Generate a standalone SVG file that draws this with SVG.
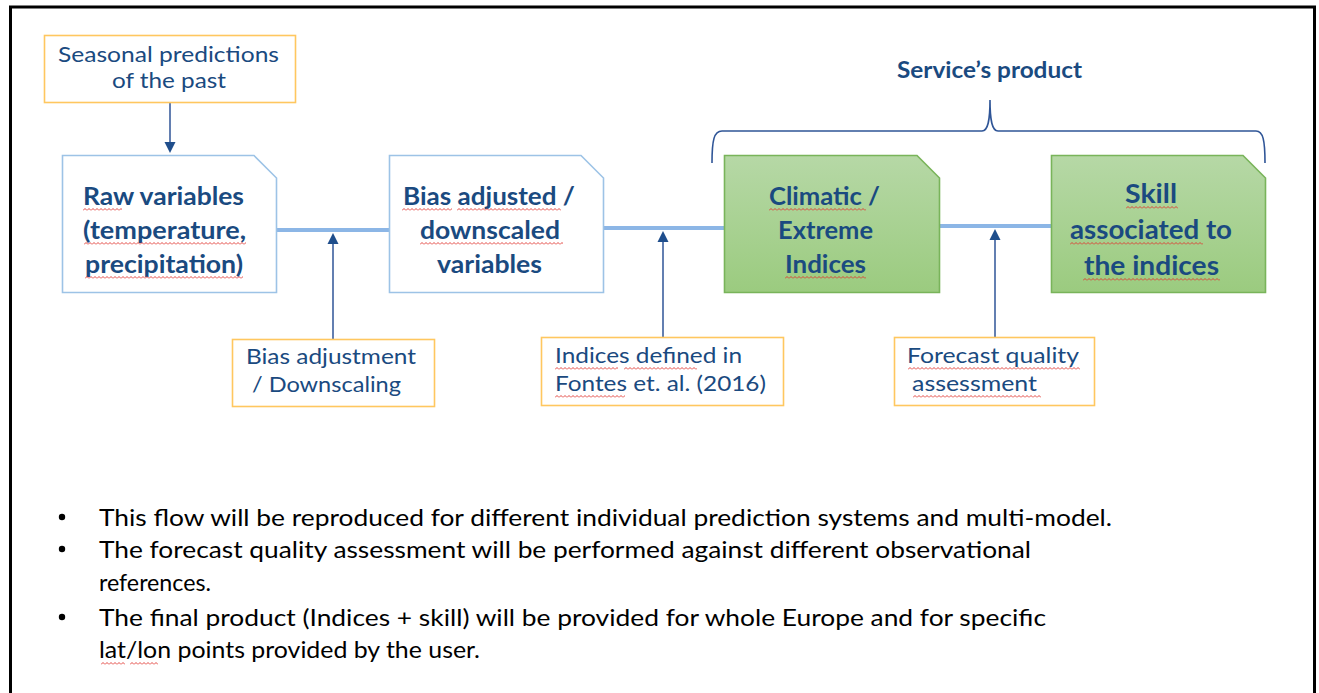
<svg xmlns="http://www.w3.org/2000/svg" width="1319" height="693" viewBox="0 0 1319 693">
  <style>
    .frame { fill: none; stroke: #000; stroke-width: 3; }
    .note { fill: #fff; stroke: #FFC75F; stroke-width: 1.6; }
    .step { fill: #fff; stroke: #9DC3E6; stroke-width: 1.6; }
    .product { fill: url(#greenFill); stroke: #79B45A; stroke-width: 1.6; }
    .flow { stroke: #8CB6E6; stroke-width: 4; fill: none; }
    .feed { stroke: #2F5597; stroke-width: 1.5; fill: none; }
    .brace { stroke: #2F5597; stroke-width: 1.6; fill: none; }
    .head { fill: #1F4E8C; }
    .bold { font-family: Lato, "Open Sans", "Liberation Sans", sans-serif; font-weight: 700; fill: #1A4A80; }
    .reg { font-family: Lato, "Open Sans", "Liberation Sans", sans-serif; font-weight: 400; fill: #1A4A80; }
    .body { font-family: Lato, "Open Sans", "Liberation Sans", sans-serif; font-weight: 400; fill: #000; font-size: 23px; }
  </style>
  <defs>
    <linearGradient id="greenFill" x1="0" y1="0" x2="0" y2="1">
      <stop offset="0" stop-color="#B6D8A6"/>
      <stop offset="1" stop-color="#9BCB7F"/>
    </linearGradient>
    <!-- red wavy underline used under flagged words -->
    <pattern id="squiggle" patternUnits="userSpaceOnUse" x="0" y="0" width="4" height="3">
      <path d="M0,2.5 L2,0.5 L4,2.5" fill="none" stroke="#E0352E" stroke-width="0.9"/>
    </pattern>
    <path id="arrowUp" d="M0,0 L-5.5,11 L5.5,11 Z"/>
  </defs>

  <rect width="1319" height="693" fill="#fff"/>
  <rect class="frame" x="10.5" y="7" width="1304" height="720"/>

  <!-- connectors -->
  <g id="connectors">
    <line class="flow" x1="277" y1="230" x2="389" y2="230"/>
    <line class="flow" x1="603" y1="228" x2="724" y2="228"/>
    <line class="flow" x1="939" y1="226" x2="1051" y2="226"/>

    <line class="feed" x1="170" y1="103" x2="170" y2="143"/>
    <path class="head" d="M170,153 L164.5,142 L175.5,142 Z"/>

    <line class="feed" x1="333" y1="340" x2="333" y2="243"/>
    <use href="#arrowUp" class="head" x="333" y="233"/>

    <line class="feed" x1="663" y1="338" x2="663" y2="241"/>
    <use href="#arrowUp" class="head" x="663" y="231"/>

    <line class="feed" x1="995" y1="337" x2="995" y2="239"/>
    <use href="#arrowUp" class="head" x="995" y="229"/>

    <path class="brace" d="M712,163 C712,140 714,131 722,131 L982,131 C988,131 990,120 990,100 C990,120 992,131 998,131 L1256,131 C1263,131 1265,140 1265,163"/>
  </g>

  <g id="service-product">
    <text class="bold" x="897" y="78" font-size="22" textLength="185" lengthAdjust="spacingAndGlyphs">Service’s product</text>
  </g>

  <g id="seasonal-predictions">
    <rect class="note" x="44.5" y="35.5" width="251" height="67"/>
    <text class="reg" x="58" y="62" font-size="21" textLength="221" lengthAdjust="spacingAndGlyphs">Seasonal predictions</text>
    <text class="reg" x="112" y="88" font-size="21" textLength="114" lengthAdjust="spacingAndGlyphs">of the past</text>
  </g>

  <g id="raw-variables">
    <path class="step" d="M62.5,155.5 L254,155.5 L276.5,178 L276.5,292.5 L62.5,292.5 Z"/>
    <text class="bold" x="83" y="205" font-size="24" textLength="161" lengthAdjust="spacingAndGlyphs">Raw variables</text>
    <text class="bold" x="83" y="239" font-size="24" textLength="163" lengthAdjust="spacingAndGlyphs">(temperature,</text>
    <text class="bold" x="85" y="273" font-size="24" textLength="158" lengthAdjust="spacingAndGlyphs">precipitation)</text>
    <rect transform="translate(83,208)" width="39" height="3" fill="url(#squiggle)"/>
    <rect transform="translate(84,242)" width="162" height="3" fill="url(#squiggle)"/>
    <rect transform="translate(85,276)" width="158" height="3" fill="url(#squiggle)"/>
  </g>

  <g id="bias-adjusted">
    <path class="step" d="M389.5,155.5 L581,155.5 L603.5,178 L603.5,292.5 L389.5,292.5 Z"/>
    <text class="bold" x="403" y="205" font-size="24" textLength="172" lengthAdjust="spacingAndGlyphs">Bias adjusted /</text>
    <text class="bold" x="420" y="239" font-size="24" textLength="140" lengthAdjust="spacingAndGlyphs">downscaled</text>
    <text class="bold" x="437" y="273" font-size="24" textLength="105" lengthAdjust="spacingAndGlyphs">variables</text>
    <rect transform="translate(402,208)" width="50" height="3" fill="url(#squiggle)"/>
    <rect transform="translate(457,208)" width="104" height="3" fill="url(#squiggle)"/>
    <rect transform="translate(420,242)" width="143" height="3" fill="url(#squiggle)"/>
  </g>

  <g id="climatic-indices">
    <path class="product" d="M724.5,155.5 L917,155.5 L939.5,178 L939.5,292.5 L724.5,292.5 Z"/>
    <text class="bold" x="769" y="205" font-size="24" textLength="111" lengthAdjust="spacingAndGlyphs">Climatic /</text>
    <text class="bold" x="778" y="239" font-size="24" textLength="95" lengthAdjust="spacingAndGlyphs">Extreme</text>
    <text class="bold" x="785" y="273" font-size="24" textLength="81" lengthAdjust="spacingAndGlyphs">Indices</text>
    <rect transform="translate(769,208)" width="97" height="3" fill="url(#squiggle)"/>
    <rect transform="translate(785,276)" width="81" height="3" fill="url(#squiggle)"/>
  </g>

  <g id="skill">
    <path class="product" d="M1051.5,155.5 L1243,155.5 L1265.5,178 L1265.5,292.5 L1051.5,292.5 Z"/>
    <text class="bold" x="1125" y="203" font-size="26" textLength="52" lengthAdjust="spacingAndGlyphs">Skill</text>
    <text class="bold" x="1070" y="239" font-size="26" textLength="162" lengthAdjust="spacingAndGlyphs">associated to</text>
    <text class="bold" x="1084" y="275" font-size="26" textLength="135" lengthAdjust="spacingAndGlyphs">the indices</text>
    <rect transform="translate(1126,206)" width="52" height="3" fill="url(#squiggle)"/>
    <rect transform="translate(1070,242)" width="133" height="3" fill="url(#squiggle)"/>
    <rect transform="translate(1083,278)" width="137" height="3" fill="url(#squiggle)"/>
  </g>

  <g id="bias-adjustment">
    <rect class="note" x="232.5" y="339.5" width="202" height="67"/>
    <text class="reg" x="246" y="364" font-size="21" textLength="170" lengthAdjust="spacingAndGlyphs">Bias adjustment</text>
    <text class="reg" x="252" y="392" font-size="21" textLength="149" lengthAdjust="spacingAndGlyphs">/ Downscaling</text>
  </g>

  <g id="indices-definition">
    <rect class="note" x="541.5" y="337.5" width="242" height="68"/>
    <text class="reg" x="555" y="363" font-size="21" textLength="187" lengthAdjust="spacingAndGlyphs">Indices defined in</text>
    <text class="reg" x="555" y="391" font-size="21" textLength="211" lengthAdjust="spacingAndGlyphs">Fontes et. al. (2016)</text>
    <rect transform="translate(555,367)" width="63" height="3" fill="url(#squiggle)"/>
    <rect transform="translate(624,367)" width="73" height="3" fill="url(#squiggle)"/>
    <rect transform="translate(555,395)" width="70" height="3" fill="url(#squiggle)"/>
  </g>

  <g id="forecast-quality">
    <rect class="note" x="894.5" y="337.5" width="200" height="68"/>
    <text class="reg" x="907" y="363" font-size="21" textLength="172" lengthAdjust="spacingAndGlyphs">Forecast quality</text>
    <text class="reg" x="912" y="391" font-size="21" textLength="125" lengthAdjust="spacingAndGlyphs">assessment</text>
    <rect transform="translate(908,367)" width="172" height="3" fill="url(#squiggle)"/>
    <rect transform="translate(913,395)" width="128" height="3" fill="url(#squiggle)"/>
  </g>

  <g id="notes">
    <circle cx="62" cy="517" r="3.2" fill="#000"/>
    <circle cx="62" cy="549" r="3.2" fill="#000"/>
    <circle cx="62" cy="617" r="3.2" fill="#000"/>
    <text class="body" x="99" y="526" textLength="1013" lengthAdjust="spacingAndGlyphs">This flow will be reproduced for different individual prediction systems and multi-model.</text>
    <text class="body" x="99" y="558" textLength="932" lengthAdjust="spacingAndGlyphs">The forecast quality assessment will be performed against different observational</text>
    <text class="body" x="99" y="591" textLength="112" lengthAdjust="spacingAndGlyphs">references.</text>
    <text class="body" x="99" y="626" textLength="947" lengthAdjust="spacingAndGlyphs">The final product (Indices + skill) will be provided for whole Europe and for specific</text>
    <text class="body" x="99" y="658" textLength="381" lengthAdjust="spacingAndGlyphs">lat/lon points provided by the user.</text>
    <rect transform="translate(101,662)" width="24" height="3" fill="url(#squiggle)"/>
    <rect transform="translate(130,662)" width="28" height="3" fill="url(#squiggle)"/>
  </g>
</svg>
